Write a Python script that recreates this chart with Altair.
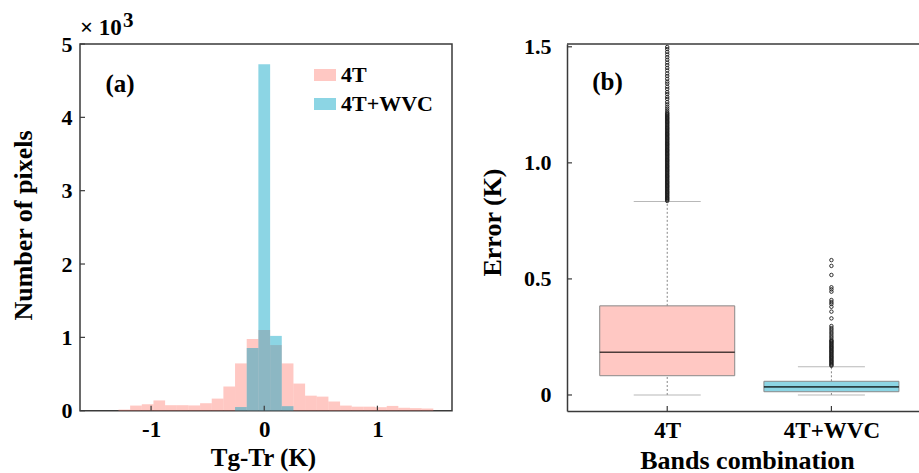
import altair as alt
import pandas as pd

# ---------------- panel (a): histogram of Tg-Tr ----------------
bin_edges = [-1.288, -1.185, -1.082, -0.979, -0.876, -0.773, -0.670, -0.567,
             -0.464, -0.361, -0.258, -0.155, -0.052, 0.052, 0.155, 0.258,
             0.361, 0.464, 0.567, 0.670, 0.773, 0.876, 0.979, 1.082, 1.185,
             1.288, 1.391, 1.494]
counts_4t = [15, 70, 88, 140, 75, 75, 72, 102, 165, 330, 645, 978, 1100,
             895, 645, 370, 205, 192, 125, 70, 55, 55, 48, 65, 40, 35, 30]
counts_wvc = [0, 0, 0, 0, 0, 0, 0, 0, 0, 0, 50, 855, 4725, 1020, 62, 0, 0,
              0, 0, 0, 0, 0, 0, 0, 0, 0, 0]
series_names = ["4T", "4T+WVC"]
x_ticks_a = [-1, 0, 1]
y_ticks_a = [0, 1, 2, 3, 4, 5]

# ---------------- panel (b): box plots of error ----------------
groups = ["4T", "4T+WVC"]
whisker_lo = [0.0, 0.0]
q1 = [0.083, 0.014]
median = [0.184, 0.035]
q3 = [0.384, 0.059]
whisker_hi = [0.833, 0.122]
outliers_4t = [0.836, 0.841, 0.845, 0.849, 0.853, 0.858, 0.862, 0.867, 0.871,
               0.875, 0.879, 0.884, 0.888, 0.893, 0.897, 0.901, 0.905, 0.910,
               0.914, 0.918, 0.922, 0.927, 0.931, 0.936, 0.940, 0.944, 0.948,
               0.953, 0.957, 0.962, 0.966, 0.970, 0.974, 0.979, 0.983, 0.987,
               0.991, 0.996, 1.000, 1.005, 1.009, 1.013, 1.017, 1.022, 1.026,
               1.031, 1.035, 1.039, 1.043, 1.048, 1.052, 1.056, 1.060, 1.065,
               1.069, 1.074, 1.078, 1.082, 1.086, 1.091, 1.095, 1.100, 1.104,
               1.108, 1.112, 1.117, 1.121, 1.125, 1.129, 1.134, 1.138, 1.143,
               1.147, 1.151, 1.155, 1.160, 1.164, 1.169, 1.173, 1.177, 1.181,
               1.186, 1.190, 1.194, 1.198, 1.203, 1.207, 1.212, 1.216, 1.224,
               1.233, 1.242, 1.252, 1.262, 1.275, 1.284, 1.296, 1.305, 1.318,
               1.328, 1.341, 1.350, 1.362, 1.374, 1.385, 1.398, 1.409, 1.421,
               1.432, 1.444, 1.455, 1.467, 1.478, 1.490, 1.499]
outliers_wvc = [0.126, 0.130, 0.134, 0.139, 0.143, 0.147, 0.151, 0.156, 0.160,
                0.164, 0.168, 0.173, 0.177, 0.182, 0.186, 0.190, 0.194, 0.199,
                0.203, 0.207, 0.211, 0.216, 0.220, 0.225, 0.229, 0.233, 0.237,
                0.246, 0.254, 0.263, 0.271, 0.280, 0.288, 0.297, 0.330, 0.359,
                0.380, 0.392, 0.400, 0.409, 0.445, 0.455, 0.464, 0.517, 0.556,
                0.581]
y_ticks_b = [0, 0.5, 1.0, 1.5]

# ---------------- styling ----------------
FONT = "Liberation Serif"
PINK = "#FF857A"
CYAN = "#00A2C3"
OP = 0.45
FRAME = "#3a3a3a"
W_A, H_A = 372, 366.7
W_B, H_B = 351.5, 367
SWATCH = "M-1.83,-1H1.83V1H-1.83Z"

# ---------------- tables ----------------
rows = []
for name, counts in zip(series_names, [counts_4t, counts_wvc]):
    for i, c in enumerate(counts):
        rows.append({"series": name, "x0": bin_edges[i], "x1": bin_edges[i + 1],
                     "count": c, "zero": 0})
hist_df = pd.DataFrame(rows)

positions = [i + 1 for i in range(len(groups))]
box_df = pd.DataFrame({"group": groups, "pos": positions,
                       "lo": whisker_lo, "q1": q1, "med": median, "q3": q3,
                       "hi": whisker_hi})
out_rows = [{"group": groups[0], "pos": positions[0], "v": v} for v in outliers_4t] + \
           [{"group": groups[1], "pos": positions[1], "v": v} for v in outliers_wvc]
out_df = pd.DataFrame(out_rows)

xa = alt.Scale(domain=[-1.628, 1.659], nice=False, zero=False)
ya = alt.Scale(domain=[0, 5], nice=False, zero=False)
xb = alt.Scale(domain=[0.42, 2.5], nice=False, zero=False)
yb = alt.Scale(domain=[-0.069, 1.512], nice=False, zero=False)
cscale = alt.Scale(domain=series_names, range=[PINK, CYAN])

lab = dict(labelFont=FONT, labelFontWeight="bold", labelColor="black",
           titleFont=FONT, titleFontWeight="bold", titleColor="black",
           grid=False, tickSize=0)

ax_xa = alt.Axis(values=x_ticks_a, labelExpr="'' + datum.value", domain=False,
                 labelFontSize=23, labelPadding=8, title="Tg-Tr (K)", titleFontSize=25,
                 titleX=183, titleY=55, titleBaseline="alphabetic",
                 titleAlign="center", **lab)
ax_ya = alt.Axis(values=y_ticks_a, labelExpr="'' + datum.value", domain=False,
                 labelFontSize=22, labelPadding=8, title="Number of pixels",
                 titleFontSize=26,
                 titleX=-57, titleY=181, titleBaseline="middle", titleAlign="center",
                 titleAngle=270, **lab)

label_expr_b = " : ".join(
    [f"datum.value == {p} ? '{g}'" for p, g in zip(positions[:-1], groups[:-1])]
    + [f"'{groups[-1]}'"])
ax_xb = alt.Axis(values=positions, labelExpr=label_expr_b,
                 domain=True, domainColor=FRAME, domainWidth=1.5, labelFontSize=23,
                 labelPadding=8, title="Bands combination", titleFontSize=26,
                 titleX=180, titleY=57,
                 titleBaseline="alphabetic", titleAlign="center", **lab)
ax_yb = alt.Axis(values=y_ticks_b,
                 labelExpr="datum.value == 0 ? '0' : format(datum.value, '.1f')",
                 domain=True, domainColor=FRAME, domainWidth=1.5, labelFontSize=22,
                 labelPadding=16, title="Error (K)", titleFontSize=26,
                 titleX=-75, titleY=178,
                 titleBaseline="middle", titleAlign="center", titleAngle=270, **lab)

def XA(f):
    return alt.X(f, scale=xa, axis=ax_xa)

def YA(f):
    return alt.Y(f, scale=ya, axis=ax_ya)

def XB(f):
    return alt.X(f, scale=xb, axis=ax_xb)

def YB(f):
    return alt.Y(f, scale=yb, axis=ax_yb)

# ---------------- panel (a) ----------------
bars = alt.Chart(hist_df).transform_calculate(k="datum.count / 1000").mark_rect(
    opacity=OP
).encode(
    x=XA("x0:Q"), x2="x1:Q",
    y=YA("k:Q"), y2="zero:Q",
    color=alt.Color("series:N", scale=cscale, sort=series_names, legend=alt.Legend(
        title=None, orient="none", legendX=234, legendY=20, symbolType=SWATCH,
        symbolSize=144, symbolOpacity=OP, symbolStrokeWidth=0, labelFont=FONT,
        labelFontSize=22, labelFontWeight="bold", labelColor="black",
        labelOffset=5, rowPadding=7, padding=0)),
)

ticks_ay = alt.Chart(pd.DataFrame({"v": y_ticks_a})).mark_rule(
    color=FRAME, strokeWidth=1.2).encode(y=YA("v:Q"), x=alt.value(0), x2=alt.value(5))
ticks_ax = alt.Chart(pd.DataFrame({"v": x_ticks_a})).mark_rule(
    color=FRAME, strokeWidth=1.2).encode(x=XA("v:Q"), y=alt.value(H_A), y2=alt.value(H_A - 5))

tag_a = alt.Chart(pd.DataFrame({"t": ["(a)"]})).mark_text(
    font=FONT, fontSize=25, fontWeight="bold", align="center", baseline="middle",
    color="black").encode(text="t:N", x=alt.value(40), y=alt.value(40))
mult_a = alt.Chart(pd.DataFrame({"t": ["\u00d7 10"]})).mark_text(
    font=FONT, fontSize=23, fontWeight="bold", align="left", baseline="alphabetic",
    color="black").encode(text="t:N", x=alt.value(0), y=alt.value(-9))
exp_a = alt.Chart(pd.DataFrame({"t": ["3"]})).mark_text(
    font=FONT, fontSize=21, fontWeight="bold", align="left", baseline="alphabetic",
    color="black").encode(text="t:N", x=alt.value(43), y=alt.value(-17))

panel_a = alt.layer(bars, ticks_ay, ticks_ax, tag_a, mult_a, exp_a).properties(
    width=W_A, height=H_A)

# ---------------- panel (b) ----------------
base_b = alt.Chart(box_df)
whisk_up = base_b.mark_rule(color="#777777", strokeWidth=0.9, strokeDash=[2, 2]).encode(
    x=XB("pos:Q"), y=YB("q3:Q"), y2="hi:Q")
whisk_dn = base_b.mark_rule(color="#777777", strokeWidth=0.9, strokeDash=[2, 2]).encode(
    x=XB("pos:Q"), y=YB("lo:Q"), y2="q1:Q")
cap_hi = base_b.mark_tick(orient="horizontal", size=67, thickness=1, color="#9a9a9a").encode(
    x=XB("pos:Q"), y=YB("hi:Q"))
cap_lo = base_b.mark_tick(orient="horizontal", size=67, thickness=1, color="#9a9a9a").encode(
    x=XB("pos:Q"), y=YB("lo:Q"))
boxes = base_b.mark_bar(size=135, fillOpacity=OP, stroke="#8a8a8a", strokeWidth=1).encode(
    x=XB("pos:Q"), y=YB("q1:Q"), y2="q3:Q",
    fill=alt.Fill("group:N", scale=cscale, legend=None))
meds = base_b.mark_tick(orient="horizontal", size=135, thickness=1.6, color="black").encode(
    x=XB("pos:Q"), y=YB("med:Q"))
outs = alt.Chart(out_df).mark_point(shape="circle", filled=False, size=12, strokeWidth=0.9,
                                    color="#1a1a1a", opacity=1).encode(
    x=XB("pos:Q"), y=YB("v:Q"))
ticks_by = alt.Chart(pd.DataFrame({"v": y_ticks_b})).mark_rule(
    color=FRAME, strokeWidth=1.2).encode(y=YB("v:Q"), x=alt.value(0), x2=alt.value(5))
ticks_bx = alt.Chart(pd.DataFrame({"v": positions})).mark_rule(
    color=FRAME, strokeWidth=1.2).encode(x=XB("v:Q"), y=alt.value(H_B), y2=alt.value(H_B - 5))
top_b = alt.Chart(pd.DataFrame({"t": [0]})).mark_rule(color=FRAME, strokeWidth=1.5).encode(
    x=alt.value(0), x2=alt.value(W_B + 2), y=alt.value(0))
tag_b = alt.Chart(pd.DataFrame({"t": ["(b)"]})).mark_text(
    font=FONT, fontSize=25, fontWeight="bold", align="center", baseline="middle",
    color="black").encode(text="t:N", x=alt.value(40.5), y=alt.value(38))

panel_b = alt.layer(whisk_up, whisk_dn, cap_hi, cap_lo, boxes, meds, outs, ticks_by,
                    ticks_bx, top_b, tag_b).properties(
    width=W_B, height=H_B, view=alt.ViewBackground(stroke=None))

chart = alt.hconcat(panel_a, panel_b, spacing=115, bounds="flush").properties(
    autosize=alt.AutoSizeParams(type="none"),
    padding={"left": 80, "top": 44, "right": 839, "bottom": 429},
    background="white",
).configure_view(stroke=FRAME, strokeWidth=1.5)

chart.save("out.html", embed_options={"renderer": "svg", "actions": False})
